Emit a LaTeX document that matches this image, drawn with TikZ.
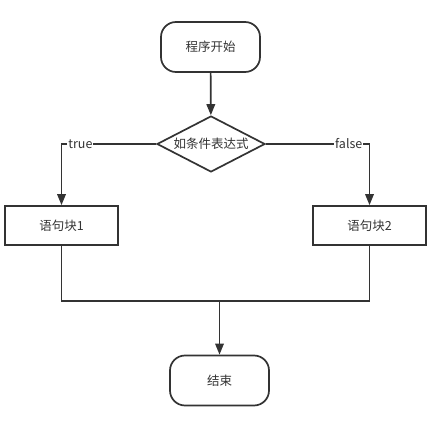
\documentclass[tikz,border=0pt]{standalone}
\usepackage{fontspec}
\setmainfont{Noto Sans CJK SC}
\usepackage{xcolor}
\usetikzlibrary{arrows.meta,positioning,shapes.geometric}
\definecolor{ink}{HTML}{333333}

\begin{document}
\begin{tikzpicture}[x=1pt,y=-1pt,font=\fontsize{12.5}{14}\selectfont,>={Triangle[length=11pt,width=8.5pt]},
  line width=1.7pt,draw=ink,text=ink,
  terminal/.style={draw=ink,rounded corners=15pt,minimum width=99pt,minimum height=50pt,inner sep=0pt},
  stepbox/.style={draw=ink,minimum width=113pt,minimum height=39pt,inner sep=0pt},
  decision/.style={draw=ink,diamond,aspect=1.93,minimum width=108pt,minimum height=56pt,inner sep=0pt},
  lbl/.style={fill=white,inner sep=1pt,text=ink}]
\useasboundingbox (0,0) rectangle (442,425);
% nodes
\node[terminal] (start) at (210.5,47) {程序开始};
\node[decision] (cond) at (211,144) {如条件表达式};
\node[stepbox] (blockA) at (61.5,225.5) {语句块1};
\node[stepbox] (blockB) at (369.5,225.5) {语句块2};
\node[terminal] (finish) at (219.5,380.5) {结束};
\coordinate (join) at (219.5,301);
% connectors
\draw[->] (start) -- (cond);
\draw[->] (cond.west) -| node[lbl,pos=0.4] {true} (blockA.north);
\draw[->] (cond.east) -| node[lbl,pos=0.4] {false} (blockB.north);
\draw (blockA.south) |- (join) -| (blockB.south);
\draw[->] (join) -- (finish);
\end{tikzpicture}
\end{document}
